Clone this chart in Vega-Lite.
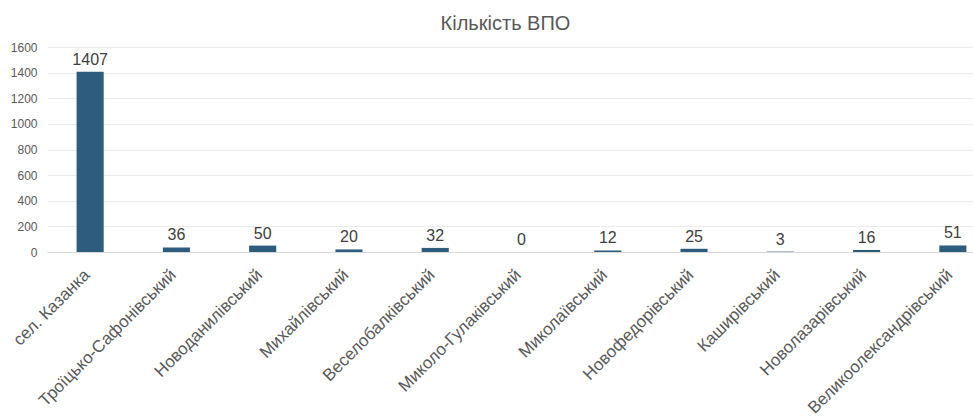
{
  "$schema": "https://vega.github.io/schema/vega-lite/v6.json",
  "autosize": {"type": "none"},
  "width": 949,
  "height": 205,
  "padding": {"left": 47, "top": 47, "right": 0, "bottom": 170},
  "background": "white",
  "config": {
    "font": "Liberation Sans",
    "view": {"stroke": null}
  },
  "title": {
    "text": "Кількість ВПО",
    "fontSize": 20,
    "fontWeight": "normal",
    "color": "#595959",
    "anchor": "middle",
    "dx": -16,
    "offset": 7,
    "frame": "group"
  },
  "data": {
    "values": [
      {"name": "сел. Казанка", "value": 1407},
      {"name": "Троїцько-Сафонівський", "value": 36},
      {"name": "Новоданилівський", "value": 50},
      {"name": "Михайлівський", "value": 20},
      {"name": "Веселобалківський", "value": 32},
      {"name": "Миколо-Гулаківський", "value": 0},
      {"name": "Миколаївський", "value": 12},
      {"name": "Новофедорівський", "value": 25},
      {"name": "Каширівський", "value": 3},
      {"name": "Новолазарівський", "value": 16},
      {"name": "Великоолександрівський", "value": 51}
    ]
  },
  "encoding": {
    "x": {
      "field": "name",
      "type": "nominal",
      "sort": null,
      "scale": {"paddingInner": 0.686, "paddingOuter": 0.343},
      "axis": {
        "title": null,
        "labelAngle": -45,
        "labelAlign": "right",
        "labelBaseline": "middle",
        "labelFontSize": 17,
        "labelColor": "#595959",
        "labelPadding": 20,
        "labelOffset": -3,
        "ticks": false,
        "domain": true,
        "domainColor": "#d9d9d9",
        "labelLimit": 400
      }
    },
    "y": {
      "field": "value",
      "type": "quantitative",
      "scale": {"domain": [0, 1600], "nice": false},
      "axis": {
        "title": null,
        "format": "d",
        "values": [0, 200, 400, 600, 800, 1000, 1200, 1400, 1600],
        "labelFontSize": 12,
        "labelColor": "#595959",
        "labelPadding": 10,
        "ticks": false,
        "domain": false,
        "gridColor": "#ebebeb",
        "gridWidth": 1
      }
    }
  },
  "layer": [
    {"mark": {"type": "bar", "color": "#2E5C7E"}},
    {
      "mark": {"type": "text", "dy": -12, "fontSize": 16, "color": "#404040", "baseline": "middle"},
      "encoding": {"text": {"field": "value", "type": "quantitative"}}
    }
  ]
}
